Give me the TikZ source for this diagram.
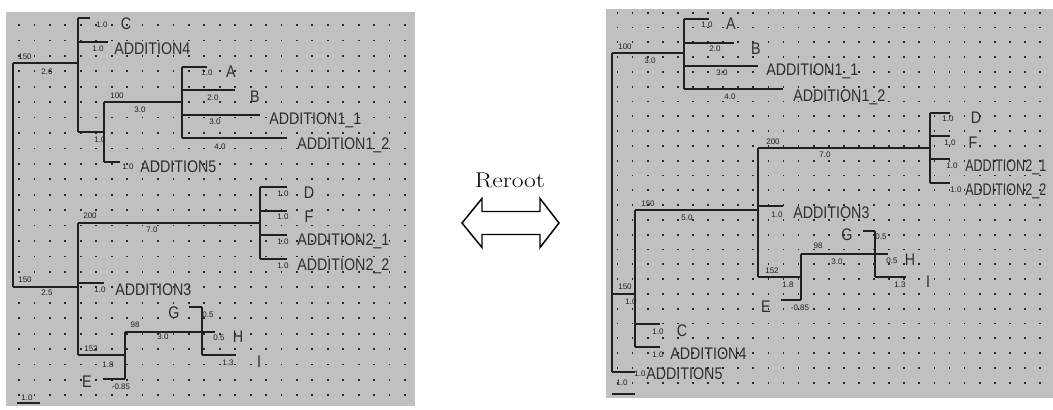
\documentclass[tikz,border=0pt]{standalone}
\usepackage{fontspec}
\usepackage{graphicx}
\newfontfamily\namefont[FakeStretch=0.85]{Liberation Sans}
\newfontfamily\numfont{Liberation Sans}
\definecolor{panel}{HTML}{C0C0C0}
\definecolor{dotc}{HTML}{282828}
\definecolor{ink}{HTML}{202020}
\definecolor{txt}{HTML}{2E2E2E}
\tikzset{
  br/.style={draw=ink, line width=1pt},
  num/.style={font=\numfont\fontsize{6}{7}\selectfont, text=ink, inner sep=0pt},
  nm/.style={font=\namefont\fontsize{12.6}{14}\selectfont, text=txt, inner sep=0pt},
  nmw/.style={nm, anchor=west},
}
\begin{document}
\begin{tikzpicture}[x=0.75pt,y=-0.75pt]
\useasboundingbox (0,0) rectangle (1053,410);
% panels
\fill[panel] (6,12) rectangle (415,406);
\fill[panel] (606,9) rectangle (1053,398);
% dot grids
\foreach \i in {0,...,25}{\foreach \j in {0,...,24}{
  \fill[dotc] ({19+15.44*\i-0.9},{25+15.43*\j-0.9}) rectangle ++(1.8,1.8);}}
\foreach \i in {0,...,28}{\foreach \j in {0,...,25}{
  \fill[dotc] ({617.5+15.09*\i-0.9},{12.7+14.8*\j-0.9}) rectangle ++(1.8,1.8);}}

% ================= LEFT TREE =================
\coordinate (lr1) at (13,63);   \coordinate (lr2) at (13,287);
\coordinate (la) at (78,63);    \coordinate (la1) at (78,18);  \coordinate (la2) at (78,132);
\coordinate (lC) at (90,18);    \coordinate (lA4) at (108,42);
\coordinate (lb1) at (104,102); \coordinate (lb2) at (104,132); \coordinate (lb3) at (104,162);
\coordinate (lA5) at (120,162);
\coordinate (lc) at (182,102);  \coordinate (lc1) at (182,67); \coordinate (lc2) at (182,138);
\coordinate (lA) at (207,67);   \coordinate (lB) at (235,90);
\coordinate (lA11) at (260,115); \coordinate (lA12) at (287,138);
\coordinate (ld) at (78,287);   \coordinate (ld1) at (78,223); \coordinate (ld2) at (78,355);
\coordinate (le) at (260,223);  \coordinate (le1) at (260,187); \coordinate (le2) at (260,259);
\coordinate (lD) at (287,187);  \coordinate (lF) at (287,211);
\coordinate (lA21) at (287,235); \coordinate (lA22) at (287,259);
\coordinate (lA3) at (104,283);
\coordinate (lf) at (125,355);  \coordinate (lf1) at (125,332); \coordinate (lf2) at (125,379);
\coordinate (lE) at (103,379);
\coordinate (lg) at (202,332);  \coordinate (lg1) at (202,307); \coordinate (lg2) at (202,355);
\coordinate (lG) at (189,307);  \coordinate (lH) at (215,332);  \coordinate (lI) at (236,355);
\coordinate (ls1) at (17,403);  \coordinate (ls2) at (40,403);

\draw[br] (lr1) -- (lr2);
\draw[br] (lr1) -- (la);
\draw[br] (la1) -- (la2);
\draw[br] (la1) -- (lC);
\draw[br] (la1 |- lA4) -- (lA4);
\draw[br] (la2) -- (lb2);
\draw[br] (lb1) -- (lb3);
\draw[br] (lb3) -- (lA5);
\draw[br] (lb1) -- (lc);
\draw[br] (lc1) -- (lc2);
\draw[br] (lc1) -- (lA);
\draw[br] (lc1 |- lB) -- (lB);
\draw[br] (lc1 |- lA11) -- (lA11);
\draw[br] (lc2) -- (lA12);
\draw[br] (lr2) -- (ld);
\draw[br] (ld1) -- (ld2);
\draw[br] (ld1) -- (le);
\draw[br] (le1) -- (le2);
\draw[br] (le1) -- (lD);
\draw[br] (le1 |- lF) -- (lF);
\draw[br] (le1 |- lA21) -- (lA21);
\draw[br] (le2) -- (lA22);
\draw[br] (ld1 |- lA3) -- (lA3);
\draw[br] (ld2) -- (lf);
\draw[br] (lf1) -- (lf2);
\draw[br] (lf2) -- (lE);
\draw[br] (lf1) -- (lg);
\draw[br] (lg1) -- (lg2);
\draw[br] (lg1) -- (lG);
\draw[br] (lg) -- (lH);
\draw[br] (lg2) -- (lI);
\draw[br] (ls1) -- (ls2);

% left small labels
\node[num] (ln1) at (25,57) {150};
\node[num] (ln2) at (47,72) {2.6};
\node[num] (ln3) at (102,25) {1.0};
\node[num] (ln4) at (98,49) {1.0};
\node[num] (ln5) at (117,96) {100};
\node[num] (ln6) at (140,110) {3.0};
\node[num] (ln7) at (100,140) {1.0};
\node[num] (ln8) at (128,167) {1.0};
\node[num] (ln9) at (207,73) {1.0};
\node[num] (ln10) at (213,98) {2.0};
\node[num] (ln11) at (215,122) {3.0};
\node[num] (ln12) at (220,147) {4.0};
\node[num] (ln13) at (90,216) {200};
\node[num] (ln14) at (152,230) {7.0};
\node[num] (ln15) at (283,194) {1.0};
\node[num] (ln16) at (283,217) {1.0};
\node[num] (ln17) at (283,242) {1.0};
\node[num] (ln18) at (283,266) {1.0};
\node[num] (ln19) at (25,280) {150};
\node[num] (ln20) at (47,293) {2.5};
\node[num] (ln21) at (100,290) {1.0};
\node[num] (ln22) at (91,349) {152};
\node[num] (ln23) at (108,365) {1.8};
\node[num] (ln24) at (121,387) {-0.85};
\node[num] (ln25) at (135,325) {98};
\node[num] (ln26) at (163,337) {3.0};
\node[num] (ln27) at (208,315) {0.5};
\node[num] (ln28) at (219,338) {0.5};
\node[num] (ln29) at (228,363) {1.3};
\node[num] (ln30) at (27,398) {1.0};

% left names
\node[nm] (lTC) at (126,24) {C};
\node[nmw] (lTA4) at (114,49) {ADDITION4};
\node[nmw] (lTA5) at (140,167) {ADDITION5};
\node[nm] (lTA) at (231,72) {A};
\node[nm] (lTB) at (255,97) {B};
\node[nmw] (lTA11) at (269,120) {ADDITION1\_1};
\node[nmw] (lTA12) at (297,145) {ADDITION1\_2};
\node[nm] (lTD) at (309,193) {D};
\node[nm] (lTF) at (309,217) {F};
\node[nmw] (lTA21) at (297,241) {ADDITION2\_1};
\node[nmw] (lTA22) at (297,266) {ADDITION2\_2};
\node[nmw] (lTA3) at (115,290) {ADDITION3};
\node[nm] (lTG) at (174,313) {G};
\node[nm] (lTH) at (238,337) {H};
\node[nm] (lTI) at (259,362) {I};
\node[nm] (lTE) at (87,382) {E};

% ================= REROOT ARROW =================
\node[font=\fontsize{16}{19}\selectfont, inner sep=0pt] (reroot) at (510,180) {\scalebox{1.2}[1]{Reroot}};
\draw[line width=1.1pt, draw=black, line join=miter] (462,223) -- (482,198.5) -- (482,211.5) -- (540,211.5) -- (540,198.5)
  -- (559,223) -- (540,247.5) -- (540,234.5) -- (482,234.5) -- (482,247.5) -- cycle;

% ================= RIGHT TREE =================
\coordinate (rr1) at (612,53);  \coordinate (rr2) at (612,372);
\coordinate (ra) at (684,53);   \coordinate (ra1) at (684,19); \coordinate (ra2) at (684,89);
\coordinate (rA) at (709,19);   \coordinate (rB) at (734,43);
\coordinate (rA11) at (758,66); \coordinate (rA12) at (783,89);
\coordinate (rb) at (635,294);  \coordinate (rb1) at (635,210); \coordinate (rb2) at (635,347);
\coordinate (rC) at (660,324);  \coordinate (rA4) at (660,347);
\coordinate (rc) at (758,210);  \coordinate (rc1) at (758,148); \coordinate (rc2) at (758,277);
\coordinate (rd) at (930,148);  \coordinate (rd1) at (930,113); \coordinate (rd2) at (930,183);
\coordinate (rD) at (950,113);  \coordinate (rF) at (950,136);
\coordinate (rA21) at (950,159); \coordinate (rA22) at (950,183);
\coordinate (rA3) at (783,206);
\coordinate (re) at (801,277);  \coordinate (re1) at (801,254); \coordinate (re2) at (801,300);
\coordinate (rE) at (781,300);
\coordinate (rf) at (875,254);  \coordinate (rf1) at (875,231); \coordinate (rf2) at (875,277);
\coordinate (rG) at (863,231);  \coordinate (rH) at (888,254);  \coordinate (rI) at (906,277);
\coordinate (rA5) at (635,372);
\coordinate (rs1) at (612,394); \coordinate (rs2) at (635,394);

\draw[br] (rr1) -- (rr2);
\draw[br] (rr1) -- (ra);
\draw[br] (ra1) -- (ra2);
\draw[br] (ra1) -- (rA);
\draw[br] (ra1 |- rB) -- (rB);
\draw[br] (ra1 |- rA11) -- (rA11);
\draw[br] (ra2) -- (rA12);
\draw[br] (rr1 |- rb) -- (rb);
\draw[br] (rb1) -- (rb2);
\draw[br] (rb1 |- rC) -- (rC);
\draw[br] (rb2) -- (rA4);
\draw[br] (rb1) -- (rc);
\draw[br] (rc1) -- (rc2);
\draw[br] (rc1) -- (rd);
\draw[br] (rd1) -- (rd2);
\draw[br] (rd1) -- (rD);
\draw[br] (rd1 |- rF) -- (rF);
\draw[br] (rd1 |- rA21) -- (rA21);
\draw[br] (rd2) -- (rA22);
\draw[br] (rc1 |- rA3) -- (rA3);
\draw[br] (rc2) -- (re);
\draw[br] (re1) -- (re2);
\draw[br] (re2) -- (rE);
\draw[br] (re1) -- (rf);
\draw[br] (rf1) -- (rf2);
\draw[br] (rf1) -- (rG);
\draw[br] (rf) -- (rH);
\draw[br] (rf2) -- (rI);
\draw[br] (rr2) -- (rA5);
\draw[br] (rs1) -- (rs2);

% right small labels
\node[num] (rn1) at (625,47) {100};
\node[num] (rn2) at (650,61) {3.0};
\node[num] (rn3) at (707,25) {1.0};
\node[num] (rn4) at (715,49) {2.0};
\node[num] (rn5) at (722,73) {3.0};
\node[num] (rn6) at (730,97) {4.0};
\node[num] (rn7) at (773,142) {200};
\node[num] (rn8) at (825,155) {7.0};
\node[num] (rn9) at (948,119) {1.0};
\node[num] (rn10) at (950,143) {1.0};
\node[num] (rn11) at (952,166) {1.0};
\node[num] (rn12) at (956,190) {1.0};
\node[num] (rn13) at (648,204) {150};
\node[num] (rn14) at (687,218) {5.0};
\node[num] (rn15) at (777,215) {1.0};
\node[num] (rn16) at (772,271) {152};
\node[num] (rn17) at (788,285) {1.8};
\node[num] (rn18) at (800,308) {-0.85};
\node[num] (rn19) at (818,246) {98};
\node[num] (rn20) at (837,262) {3.0};
\node[num] (rn21) at (881,237) {0.5};
\node[num] (rn22) at (892,261) {0.5};
\node[num] (rn23) at (900,285) {1.3};
\node[num] (rn24) at (625,287) {150};
\node[num] (rn25) at (631,302) {1.0};
\node[num] (rn26) at (658,332) {1.0};
\node[num] (rn27) at (658,355) {1.0};
\node[num] (rn28) at (640,374) {1.0};
\node[num] (rn29) at (622,383) {1.0};

% right names
\node[nm] (rTA) at (731,24) {A};
\node[nm] (rTB) at (756,49) {B};
\node[nmw] (rTA11) at (766,71) {ADDITION1\_1};
\node[nmw] (rTA12) at (793,97) {ADDITION1\_2};
\node[nm] (rTD) at (976,118) {D};
\node[nm] (rTF) at (973,143) {F};
\node[nmw] (rTA21) at (965,167) {\scalebox{0.88}[1]{ADDITION2\_1}};
\node[nmw] (rTA22) at (965,191) {\scalebox{0.88}[1]{ADDITION2\_2}};
\node[nmw] (rTA3) at (793,213) {ADDITION3};
\node[nm] (rTG) at (847,235) {G};
\node[nm] (rTH) at (910,260) {H};
\node[nm] (rTI) at (928,282) {I};
\node[nm] (rTE) at (766,307) {E};
\node[nm] (rTC) at (682,331) {C};
\node[nmw] (rTA4) at (670,354) {ADDITION4};
\node[nmw] (rTA5) at (646,374) {ADDITION5};
\end{tikzpicture}
\end{document}
